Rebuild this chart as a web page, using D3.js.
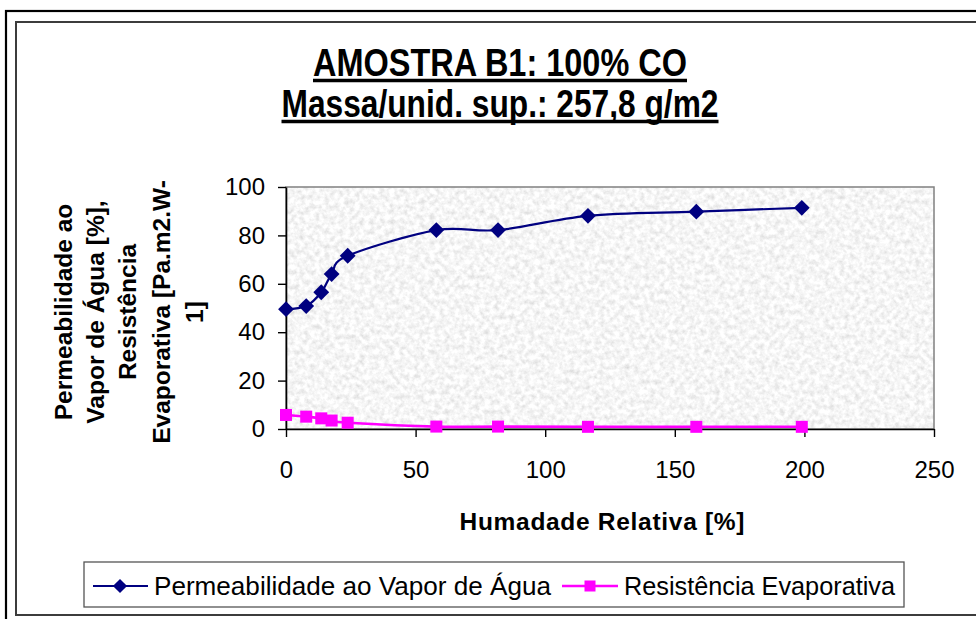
<!DOCTYPE html>
<html>
<head>
<meta charset="utf-8">
<script src="https://cdn.jsdelivr.net/npm/d3@7"></script>
<style>
  body { margin: 0; background: #fff; }
  svg { display: block; }
  text { font-family: "Liberation Sans", Arial, Helvetica, sans-serif; fill: #000; }
</style>
</head>
<body>
<svg id="chart" width="976" height="619"></svg>
<script>
// Measured series: relative humidity vs. water-vapour permeability and evaporative resistance
const humidity     = [0, 7.8, 13.6, 17.6, 23.8, 58, 81.8, 116.5, 158.3, 199];
const permeability = [49.5, 50.8, 56.5, 64.0, 71.6, 82.2, 82.2, 88.1, 89.8, 91.4];
const resistance   = [5.8, 5.1, 4.4, 3.5, 2.6, 1.0, 1.0, 0.9, 0.9, 0.9];

const xTicks = [0, 50, 100, 150, 200, 250];
const yTicks = [0, 20, 40, 60, 80, 100];

const titleLines  = ["AMOSTRA B1: 100% CO", "Massa/unid. sup.: 257,8 g/m2"];
const yLabelLines = ["Permeabilidade ao", "Vapor de Água [%],", "Resistência", "Evaporativa [Pa.m2.W-", "1]"];
const xLabel      = "Humadade Relativa [%]";
const seriesNames = ["Permeabilidade ao Vapor de Água", "Resistência Evaporativa"];

const svg = d3.select("#chart");
const W = 976, H = 619;
const plot = { left: 286, top: 187, right: 934, bottom: 429 };

// Outer and inner chart frames
svg.append("rect").attr("x", 6).attr("y", 11).attr("width", W + 20).attr("height", H + 20)
  .attr("fill", "none").attr("stroke", "#000").attr("stroke-width", 2.2);
svg.append("rect").attr("x", 16).attr("y", 22).attr("width", W + 20).attr("height", 615 - 22)
  .attr("fill", "#fff").attr("stroke", "#3c3c3c").attr("stroke-width", 2);

// Newsprint-like texture for the plot background
const defs = svg.append("defs");
const filt = defs.append("filter").attr("id", "paper")
  .attr("filterUnits", "userSpaceOnUse")
  .attr("x", plot.left).attr("y", plot.top)
  .attr("width", plot.right - plot.left).attr("height", plot.bottom - plot.top);
filt.append("feTurbulence").attr("type", "fractalNoise")
  .attr("baseFrequency", "0.2").attr("numOctaves", 3).attr("seed", 7).attr("result", "n");
filt.append("feColorMatrix").attr("type", "matrix").attr("in", "n")
  .attr("values", "0.5 0 0 0 0.67  0.5 0 0 0 0.67  0.5 0 0 0 0.67  0 0 0 0 1");

const x = d3.scaleLinear().domain([0, 250]).range([plot.left, plot.right]);
const y = d3.scaleLinear().domain([0, 100]).range([plot.bottom, plot.top]);

svg.append("rect")
  .attr("x", plot.left).attr("y", plot.top)
  .attr("width", plot.right - plot.left).attr("height", plot.bottom - plot.top)
  .attr("fill", "#ebebeb").attr("filter", "url(#paper)");
svg.append("rect")
  .attr("x", plot.left).attr("y", plot.top)
  .attr("width", plot.right - plot.left).attr("height", plot.bottom - plot.top)
  .attr("fill", "none").attr("stroke", "#808080").attr("stroke-width", 1.5);

// Axes
const xAxis = svg.append("g").attr("transform", `translate(0,${plot.bottom})`)
  .call(d3.axisBottom(x).tickValues(xTicks).tickSize(8).tickPadding(24).tickSizeOuter(0));
const yAxis = svg.append("g").attr("transform", `translate(${plot.left},0)`)
  .call(d3.axisLeft(y).tickValues(yTicks).tickSize(8).tickPadding(13).tickSizeOuter(0));
[xAxis, yAxis].forEach(g => {
  g.select(".domain").attr("stroke", "#000").attr("stroke-width", 1.6);
  g.selectAll(".tick line").attr("stroke", "#000").attr("stroke-width", 1.4);
  g.selectAll(".tick text").attr("font-size", 24).attr("fill", "#000")
    .style("font-family", '"Liberation Sans", Arial, sans-serif');
});

// Series lines (smoothed) and markers
const pts = vals => humidity.map((h, i) => [h, vals[i]]);
const line = d3.line().x(d => x(d[0])).y(d => y(d[1])).curve(d3.curveCatmullRom.alpha(0));

svg.append("path").datum(pts(permeability)).attr("d", line)
  .attr("fill", "none").attr("stroke", "#000080").attr("stroke-width", 2.2);
svg.append("path").datum(pts(resistance)).attr("d", line)
  .attr("fill", "none").attr("stroke", "#ff00ff").attr("stroke-width", 2.6);

const diamond = d3.symbol().type(d3.symbolSquare).size(125);
svg.append("g").selectAll("path").data(pts(permeability)).join("path")
  .attr("d", diamond)
  .attr("transform", d => `translate(${x(d[0])},${y(d[1])}) rotate(45)`)
  .attr("fill", "#000080");

const square = 12;
svg.append("g").selectAll("rect").data(pts(resistance)).join("rect")
  .attr("x", d => x(d[0]) - square / 2).attr("y", d => y(d[1]) - square / 2)
  .attr("width", square).attr("height", square).attr("fill", "#ff00ff");

// Title (bold, underlined)
const titleSpecs = [
  { text: titleLines[0], base: 76, width: 374 },
  { text: titleLines[1], base: 117, width: 437 }
];
titleSpecs.forEach(t => {
  svg.append("text").attr("x", 500).attr("y", t.base).attr("text-anchor", "middle")
    .attr("font-size", 38).attr("font-weight", "bold")
    .attr("textLength", t.width).attr("lengthAdjust", "spacingAndGlyphs")
    .text(t.text);
  svg.append("line").attr("x1", 500 - t.width / 2).attr("x2", 500 + t.width / 2)
    .attr("y1", t.base + 4.5).attr("y2", t.base + 4.5)
    .attr("stroke", "#000").attr("stroke-width", 3.5);
});

// Y axis title, rotated, one line per row
const yLabelX = [63, 95, 127, 161, 194];
yLabelLines.forEach((s, i) => {
  svg.append("text")
    .attr("transform", `translate(${yLabelX[i] + 9},312) rotate(-90)`)
    .attr("text-anchor", "middle").attr("font-size", 24.5).attr("font-weight", "bold")
    .text(s);
});

// X axis title
svg.append("text").attr("x", 602).attr("y", 530).attr("text-anchor", "middle")
  .attr("font-size", 24.5).attr("font-weight", "bold")
  .attr("textLength", 285).attr("lengthAdjust", "spacing")
  .text(xLabel);

// Legend
svg.append("rect").attr("x", 84).attr("y", 562).attr("width", 820).attr("height", 45)
  .attr("fill", "#fff").attr("stroke", "#555").attr("stroke-width", 1.3);
const legY = 586;
// first entry
svg.append("line").attr("x1", 93).attr("x2", 148).attr("y1", legY).attr("y2", legY)
  .attr("stroke", "#000080").attr("stroke-width", 2.2);
svg.append("path").attr("d", d3.symbol().type(d3.symbolSquare).size(100))
  .attr("transform", `translate(120,${legY}) rotate(45)`).attr("fill", "#000080");
svg.append("text").attr("x", 154).attr("y", legY + 9).attr("font-size", 25)
  .attr("textLength", 397).attr("lengthAdjust", "spacingAndGlyphs").text(seriesNames[0]);
// second entry
svg.append("line").attr("x1", 562).attr("x2", 618).attr("y1", legY).attr("y2", legY)
  .attr("stroke", "#ff00ff").attr("stroke-width", 2.6);
svg.append("rect").attr("x", 590 - 5.5).attr("y", legY - 5.5).attr("width", 11).attr("height", 11)
  .attr("fill", "#ff00ff");
svg.append("text").attr("x", 624).attr("y", legY + 9).attr("font-size", 25)
  .attr("textLength", 271).attr("lengthAdjust", "spacingAndGlyphs").text(seriesNames[1]);
</script>
</body>
</html>
